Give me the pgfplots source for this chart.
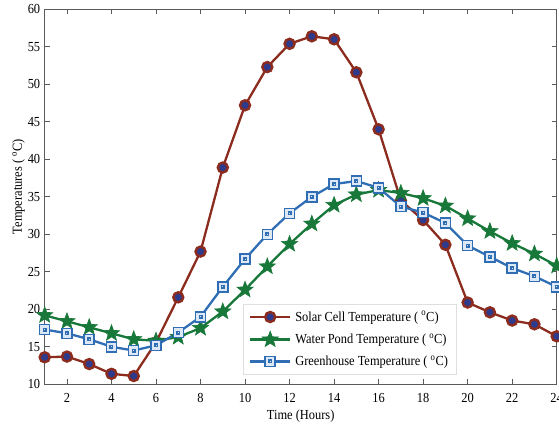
\documentclass[border=0pt]{standalone}
\usepackage{fontspec}
\setmainfont{Liberation Serif}[FakeStretch=0.9]
\usepackage{pgfplots}
\pgfplotsset{compat=1.18}
\usetikzlibrary{calc}
\definecolor{solar}{HTML}{8B2C1E}
\definecolor{solarfill}{HTML}{2E3A8C}
\definecolor{pond}{HTML}{17783A}
\definecolor{house}{HTML}{2F6EB5}
\definecolor{housefill}{HTML}{DCE8F5}
\definecolor{axisgray}{HTML}{5A5A5A}

% filled five-pointed star
\pgfdeclareplotmark{fstar}{%
  \pgfpathmoveto{\pgfpointpolar{90}{\pgfplotmarksize}}%
  \pgfpathlineto{\pgfpointpolar{126}{0.42\pgfplotmarksize}}%
  \pgfpathlineto{\pgfpointpolar{162}{\pgfplotmarksize}}%
  \pgfpathlineto{\pgfpointpolar{198}{0.42\pgfplotmarksize}}%
  \pgfpathlineto{\pgfpointpolar{234}{\pgfplotmarksize}}%
  \pgfpathlineto{\pgfpointpolar{270}{0.42\pgfplotmarksize}}%
  \pgfpathlineto{\pgfpointpolar{306}{\pgfplotmarksize}}%
  \pgfpathlineto{\pgfpointpolar{342}{0.42\pgfplotmarksize}}%
  \pgfpathlineto{\pgfpointpolar{18}{\pgfplotmarksize}}%
  \pgfpathlineto{\pgfpointpolar{54}{0.42\pgfplotmarksize}}%
  \pgfpathclose
  \pgfusepathqfillstroke}
% square with a small square inside
\pgfdeclareplotmark{dsquare}{%
  \pgfpathrectangle{\pgfpoint{-\pgfplotmarksize}{-\pgfplotmarksize}}{\pgfpoint{2\pgfplotmarksize}{2\pgfplotmarksize}}%
  \pgfusepathqfillstroke
  \pgfpathrectangle{\pgfpoint{-0.25\pgfplotmarksize}{-0.25\pgfplotmarksize}}{\pgfpoint{0.5\pgfplotmarksize}{0.5\pgfplotmarksize}}%
  \pgfusepathqstroke}

\begin{document}
\begin{tikzpicture}
\begin{axis}[
    scale only axis,
    width=512bp, height=375bp,
    xmin=1, xmax=24, ymin=10, ymax=60,
    xtick={2,4,...,24}, ytick={10,15,...,60},
    tick align=inside,
    major tick length=5bp,
    axis line style={axisgray, line width=0.9bp},
    every tick/.style={axisgray, line width=0.8bp},
    font=\fontsize{13.8bp}{15bp}\selectfont,
    /pgf/number format/assume math mode=true,
    xticklabel style={yshift=-6bp},
    yticklabel style={xshift=-1bp},
    xlabel={Time (Hours)},
    ylabel={Temperatures ( \textsuperscript{o}C)},
    ylabel style={at={(ticklabel cs:0.527)}, yshift=-4bp},
    legend style={at={(0.387,0.027)}, anchor=south west, draw=gray!25,
        font=\fontsize{13.8bp}{15bp}\selectfont, row sep=6.5bp,
        inner xsep=6bp, inner ysep=5bp, cells={anchor=west},
        /tikz/every odd column/.append style={column sep=2bp}},
    legend image code/.code={
        \draw[mark repeat=2, mark phase=2] plot coordinates {(0bp,0bp) (20bp,0bp) (40bp,0bp)};},
]
\addplot[solar, line width=2.3bp, mark=*, mark size=5bp,
    mark options={fill=solarfill, draw=solar, line width=2.4bp}] coordinates {
    (1,13.6) (2,13.7) (3,12.7) (4,11.4) (5,11.1) (6,15.6) (7,21.6) (8,27.7)
    (9,38.9) (10,47.2) (11,52.3) (12,55.4) (13,56.4) (14,56.0) (15,51.6) (16,44.0)
    (17,34.5) (18,31.9) (19,28.6) (20,20.9) (21,19.6) (22,18.5) (23,18.0) (24,16.4)};
\addlegendentry{Solar Cell Temperature ( \textsuperscript{o}C)}
\addplot[pond, line width=2.3bp, mark=fstar, mark size=8.5bp,
    mark options={fill=pond, draw=pond, line width=0.6bp}] coordinates {
    (1,19.2) (2,18.4) (3,17.6) (4,16.8) (5,16.0) (6,15.8) (7,16.3) (8,17.5)
    (9,19.7) (10,22.6) (11,25.7) (12,28.7) (13,31.4) (14,33.9) (15,35.3) (16,35.9)
    (17,35.5) (18,34.8) (19,33.8) (20,32.1) (21,30.4) (22,28.8) (23,27.4) (24,25.8)};
\addlegendentry{Water Pond Temperature ( \textsuperscript{o}C)}
\addplot[house, line width=2.3bp, mark=dsquare, mark size=5bp,
    mark options={fill=housefill, draw=house, line width=1.5bp}] coordinates {
    (1,17.3) (2,16.8) (3,16.0) (4,15.0) (5,14.5) (6,15.2) (7,16.9) (8,19.0)
    (9,23.0) (10,26.7) (11,30.0) (12,32.8) (13,35.0) (14,36.7) (15,37.1) (16,36.2)
    (17,33.7) (18,32.9) (19,31.5) (20,28.5) (21,27.0) (22,25.5) (23,24.4) (24,23.0)};
\addlegendentry{Greenhouse Temperature ( \textsuperscript{o}C)}
\end{axis}
\pgfresetboundingbox
\path ($(current axis.south west)+(-44.7bp,-41bp)$) rectangle ($(current axis.north east)+(2.3bp,9.3bp)$);
\end{tikzpicture}
\end{document}
